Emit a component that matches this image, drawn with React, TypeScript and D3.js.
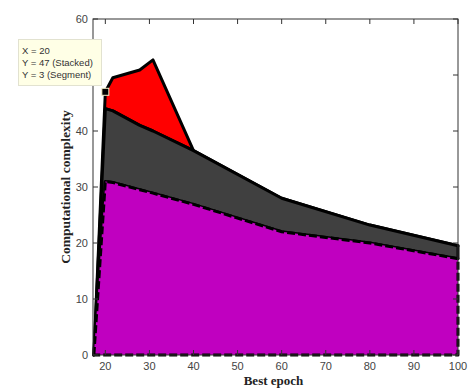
import * as d3 from "d3";
import { useRef, useEffect } from "react";

// epochs at which the layers were sampled
const epochs = [17.4, 20, 21.7, 27.8, 30.8, 40, 60, 80, 100];
// segment heights of each stacked layer
const baseLayer = [0, 31, 30.8, 29.5, 28.9, 26.9, 22, 20, 17.2];
const midLayer = [0, 13, 12.8, 11.5, 11.1, 9.6, 6, 3.2, 2.3];
const topLayer = [0, 3, 5.9, 9.9, 12.7, 0, 0, 0, 0];

const xTicks = [20, 30, 40, 50, 60, 70, 80, 90, 100];
const yTicks = [0, 10, 20, 30, 40, 50, 60];
// the 50 label sits under the data tip in the original
const hiddenYLabels = [50];

const tipLines = ["X = 20", "Y = 47 (Stacked)", "Y = 3 (Segment)"];

export default function App() {
  const svgRef = useRef<SVGSVGElement>(null);

  useEffect(() => {
    const svg = d3.select(svgRef.current);
    svg.selectAll("*").remove();

    const W = 468, H = 389;
    const left = 93, right = 458, top = 19, bottom = 355;

    const x = d3.scaleLinear().domain([17.2, 100]).range([left, right]);
    const y = d3.scaleLinear().domain([0, 60]).range([bottom, top]);

    svg.append("rect").attr("width", W).attr("height", H).attr("fill", "#fff");

    // build stacked rows
    const rows = epochs.map((e, i) => ({ e, a: baseLayer[i], b: midLayer[i], c: topLayer[i] }));
    const stack = d3.stack<any>().keys(["a", "b", "c"]);
    const series = stack(rows);

    const area = d3.area<any>()
      .x(d => x(d.data.e))
      .y0(d => y(d[0]))
      .y1(d => y(d[1]));

    const fills = ["#c000c0", "#404040", "#ff0000"];

    // draw top layer first so the dashed edge of the base sits on top
    [2, 1, 0].forEach(k => {
      svg.append("path")
        .datum(series[k])
        .attr("d", area as any)
        .attr("fill", fills[k])
        .attr("stroke", "#000")
        .attr("stroke-width", 3)
        .attr("stroke-linejoin", "round")
        .attr("stroke-dasharray", k === 0 ? "8,3" : null);
    });

    // box
    svg.append("rect")
      .attr("x", left).attr("y", top)
      .attr("width", right - left).attr("height", bottom - top)
      .attr("fill", "none").attr("stroke", "#333").attr("stroke-width", 1);

    const tk = 5;
    xTicks.forEach(t => {
      svg.append("line").attr("x1", x(t)).attr("x2", x(t)).attr("y1", bottom).attr("y2", bottom - tk).attr("stroke", "#333");
      svg.append("line").attr("x1", x(t)).attr("x2", x(t)).attr("y1", top).attr("y2", top + tk).attr("stroke", "#333");
      svg.append("text").attr("x", x(t)).attr("y", bottom + 15)
        .attr("text-anchor", "middle").attr("fill", "#444")
        .style("font-family", "Liberation Sans, Arial, sans-serif").style("font-size", "11px")
        .text(t);
    });
    yTicks.forEach(t => {
      svg.append("line").attr("x1", left).attr("x2", left + tk).attr("y1", y(t)).attr("y2", y(t)).attr("stroke", "#333");
      svg.append("line").attr("x1", right).attr("x2", right - tk).attr("y1", y(t)).attr("y2", y(t)).attr("stroke", "#333");
      if (hiddenYLabels.includes(t)) return;
      svg.append("text").attr("x", left - 5).attr("y", y(t) + 4)
        .attr("text-anchor", "end").attr("fill", "#444")
        .style("font-family", "Liberation Sans, Arial, sans-serif").style("font-size", "11px")
        .text(t);
    });

    // axis labels
    svg.append("text").attr("x", (left + right) / 2 - 2).attr("y", 385)
      .attr("text-anchor", "middle").attr("fill", "#222")
      .style("font-family", "Liberation Serif, Times New Roman, serif").style("font-size", "13px").style("font-weight", "700")
      .text("Best epoch");
    svg.append("text").attr("transform", "translate(70,187) rotate(-90)")
      .attr("text-anchor", "middle").attr("fill", "#222")
      .style("font-family", "Liberation Serif, Times New Roman, serif").style("font-size", "13.5px").style("font-weight", "700")
      .text("Computational complexity");

    // data tip
    const tipX = 20, tipY = 47;
    svg.append("rect").attr("x", x(tipX) - 3.5).attr("y", y(tipY) - 3.5).attr("width", 7).attr("height", 7)
      .attr("fill", "#000").attr("stroke", "#f4f0c8").attr("stroke-width", 1);
    svg.append("rect").attr("x", 18.5).attr("y", 39.5).attr("width", 83).attr("height", 46)
      .attr("fill", "#ffffe6").attr("stroke", "#e2e2d0").attr("stroke-width", 1);
    tipLines.forEach((s, i) => {
      svg.append("text").attr("x", 22).attr("y", 54 + i * 12.2)
        .attr("fill", "#333")
        .style("font-family", "Liberation Sans, Arial, sans-serif").style("font-size", "9.5px")
        .text(s);
    });
  }, []);

  return (
    <svg ref={svgRef} width={468} height={389}
      style={{ position: "absolute", left: 0, top: 0, display: "block" }} />
  );
}
